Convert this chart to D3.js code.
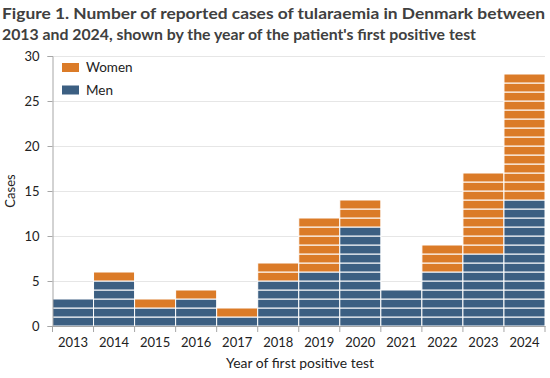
<!DOCTYPE html>
<html><head><meta charset="utf-8">
<script src="https://cdn.jsdelivr.net/npm/d3@7"></script>
<style>body{margin:0;background:#fff}svg{display:block}</style>
</head><body>
<svg id="c" width="550" height="378"></svg>
<script>
const years = ["2013","2014","2015","2016","2017","2018","2019","2020","2021","2022","2023","2024"];
const men   = [3,5,2,3,1,5,6,11,4,6,8,14];
const women = [0,1,1,1,1,2,6,3,0,3,9,14];
const yTicks = [0,5,10,15,20,25,30];
const seriesNames = ["Women","Men"];
const colors = {Men:"#3c5f82", Women:"#db7b28"};

const svg = d3.select("#c");
const font = "'Century Gothic','URW Gothic','Lato','DejaVu Sans',sans-serif";
const m = {l:52.5, r:545, t:56, b:326};
const x = d3.scaleBand().domain(years).range([m.l, m.r]).padding(0);
const y = d3.scaleLinear().domain([0,30]).range([m.b, m.t]);

// title
const title = svg.append("g").attr("font-family", font).attr("font-weight","bold").attr("fill","#404040").attr("font-size",16);
title.append("text").attr("x",2).attr("y",19).attr("textLength",543).attr("lengthAdjust","spacingAndGlyphs")
  .text("Figure 1. Number of reported cases of tularaemia in Denmark between");
title.append("text").attr("x",2).attr("y",40).attr("textLength",474).attr("lengthAdjust","spacingAndGlyphs")
  .text("2013 and 2024, shown by the year of the patient's first positive test");

// gridlines
svg.append("g").selectAll("line").data(yTicks.filter(d=>d>0)).join("line")
  .attr("x1",m.l).attr("x2",m.r).attr("y1",d=>y(d)+0.5).attr("y2",d=>y(d)+0.5)
  .attr("stroke","#e6e6e6").attr("stroke-width",1);

// unit blocks
const units = [];
years.forEach((yr,i)=>{
  for(let k=0;k<men[i];k++) units.push({yr, lo:k, s:"Men"});
  for(let k=0;k<women[i];k++) units.push({yr, lo:men[i]+k, s:"Women"});
});
svg.append("g").selectAll("rect").data(units).join("rect")
  .attr("x",d=>x(d.yr)).attr("width",x.bandwidth())
  .attr("y",d=>y(d.lo+1)).attr("height",d=>y(d.lo)-y(d.lo+1))
  .attr("fill",d=>colors[d.s]).attr("stroke","#fff").attr("stroke-width",1);

// y axis
const ya = svg.append("g").attr("transform",`translate(${m.l},0)`)
  .call(d3.axisLeft(y).tickValues(yTicks).tickSize(5).tickPadding(8));
ya.select(".domain").attr("stroke","#a6a6a6");
ya.selectAll(".tick line").attr("stroke","#a6a6a6");
ya.selectAll("text").attr("font-family",font).attr("font-size",13).attr("fill","#222");

// x axis
const xa = svg.append("g").attr("transform",`translate(0,${m.b})`)
  .call(d3.axisBottom(x).tickSize(0).tickPadding(12));
xa.select(".domain").attr("stroke","#a6a6a6");
xa.selectAll("text").attr("font-family",font).attr("font-size",13).attr("fill","#222");
svg.append("g").selectAll("line").data(years.concat(["end"])).join("line")
  .attr("x1",(d,i)=>m.l+i*x.bandwidth()).attr("x2",(d,i)=>m.l+i*x.bandwidth())
  .attr("y1",m.b).attr("y2",m.b+6).attr("stroke","#a6a6a6");

// axis titles
svg.append("text").attr("x",226).attr("y",368).attr("textLength",148).attr("lengthAdjust","spacingAndGlyphs")
  .attr("font-family",font).attr("font-size",13).attr("fill","#222").text("Year of first positive test");
svg.append("text").attr("transform","translate(15,191) rotate(-90)").attr("text-anchor","middle")
  .attr("font-family",font).attr("font-size",13).attr("fill","#222").text("Cases");

// legend
const lg = svg.append("g").selectAll("g").data(seriesNames).join("g")
  .attr("transform",(d,i)=>`translate(62,${63+i*22.5})`);
lg.append("rect").attr("width",17).attr("height",9).attr("fill",d=>colors[d]);
lg.append("text").attr("x",24).attr("y",9).attr("font-family",font).attr("font-size",13.5).attr("fill","#222").text(d=>d);
</script>
</body></html>
